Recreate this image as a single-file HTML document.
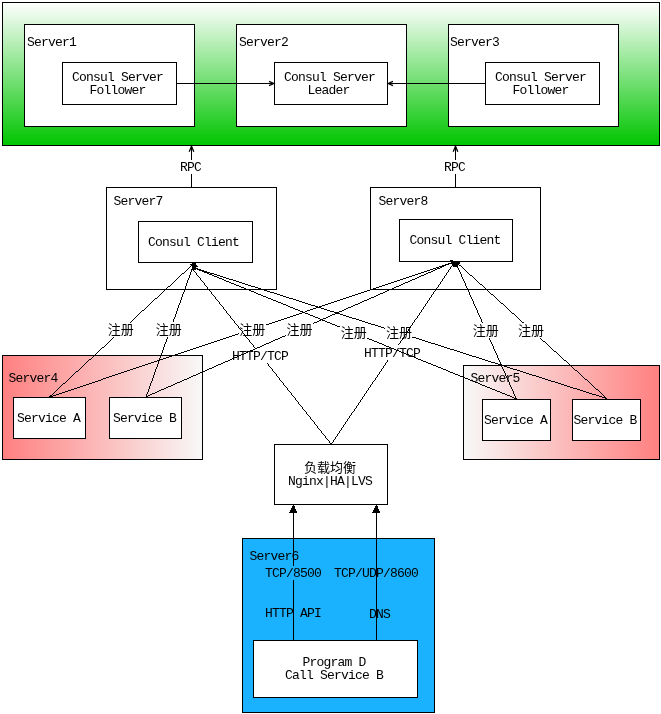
<!DOCTYPE html>
<html lang="zh-CN">
<head>
<meta charset="utf-8">
<title>Consul Cluster Architecture</title>
<style>
html,body{margin:0;padding:0;background:#fff;}
body{width:661px;height:714px;overflow:hidden;}
svg{display:block;will-change:transform;}
rect,line,polygon{shape-rendering:crispEdges;}
line,polyline{stroke:#000;stroke-width:1;fill:none;}
line.d{stroke-width:0.999;}
polyline.ah{stroke-width:1.3;}
polygon.af,rect.p{fill:#000;stroke:none;}
text{font-family:"Liberation Mono","Noto Serif CJK SC",monospace;font-size:13px;letter-spacing:-0.8px;fill:#000;}
text.m{text-anchor:middle;}
text.c{font-family:"Liberation Mono","Noto Sans CJK SC",sans-serif;font-size:13px;letter-spacing:0;}
</style>
</head>
<body>
<svg width="661" height="714" viewBox="0 0 661 714">
<defs>
<linearGradient id="gg" x1="0" y1="0" x2="0" y2="1"><stop offset="0" stop-color="#ffffff"/><stop offset="1" stop-color="#00c500"/></linearGradient>
<linearGradient id="r1" x1="0" y1="0" x2="1" y2="0"><stop offset="0" stop-color="#ff8080"/><stop offset="1" stop-color="#f8f8f8"/></linearGradient>
<linearGradient id="r2" x1="0" y1="0" x2="1" y2="0"><stop offset="0" stop-color="#f8f8f8"/><stop offset="1" stop-color="#ff8080"/></linearGradient>
</defs>
<rect x="2.5" y="2.5" width="657" height="143" fill="url(#gg)" stroke="#000"/>
<rect x="24.5" y="24.5" width="170" height="102" fill="#fff" stroke="#000"/>
<rect x="62.5" y="62.5" width="114" height="42" fill="#fff" stroke="#000"/>
<text x="27" y="46">Server1</text>
<text x="117.5" y="81" class="m">Consul Server</text>
<text x="117.5" y="94" class="m">Follower</text>
<rect x="236.5" y="24.5" width="170" height="102" fill="#fff" stroke="#000"/>
<rect x="274.5" y="62.5" width="113" height="42" fill="#fff" stroke="#000"/>
<text x="239" y="46">Server2</text>
<text x="329.5" y="81" class="m">Consul Server</text>
<text x="328.5" y="94" class="m">Leader</text>
<rect x="448.5" y="24.5" width="170" height="102" fill="#fff" stroke="#000"/>
<rect x="485.5" y="62.5" width="114" height="42" fill="#fff" stroke="#000"/>
<text x="450" y="46">Server3</text>
<text x="540.5" y="81" class="m">Consul Server</text>
<text x="540.5" y="94" class="m">Follower</text>
<line x1="176.5" y1="83.5" x2="274" y2="83.5"/>
<polyline class="ah" points="269,81.3 273.8,83.5 269,85.7"/>
<line x1="485" y1="83.5" x2="388" y2="83.5"/>
<polyline class="ah" points="393,81.3 388.2,83.5 393,85.7"/>
<line x1="191.5" y1="187" x2="191.5" y2="146"/>
<polyline class="ah" points="189.2,151.8 191.5,146.3 193.8,151.8"/>
<rect x="180" y="160" width="23" height="14" fill="#fff" stroke="none"/>
<text x="190.5" y="171" class="m">RPC</text>
<line x1="455.5" y1="187" x2="455.5" y2="146"/>
<polyline class="ah" points="453.2,151.8 455.5,146.3 457.8,151.8"/>
<rect x="444" y="160" width="23" height="14" fill="#fff" stroke="none"/>
<text x="454.5" y="171" class="m">RPC</text>
<rect x="106.5" y="187.5" width="170" height="102" fill="#fff" stroke="#000"/>
<rect x="370.5" y="187.5" width="170" height="102" fill="#fff" stroke="#000"/>
<rect x="138.5" y="221.5" width="114" height="41" fill="#fff" stroke="#000"/>
<rect x="399.5" y="219.5" width="113" height="42" fill="#fff" stroke="#000"/>
<text x="113.5" y="205">Server7</text>
<text x="378.5" y="205">Server8</text>
<text x="193.5" y="246" class="m">Consul Client</text>
<text x="455.0" y="244" class="m">Consul Client</text>
<rect x="2.5" y="355.5" width="200" height="104" fill="url(#r1)" stroke="#000"/>
<rect x="463.5" y="365.5" width="196" height="94" fill="url(#r2)" stroke="#000"/>
<rect x="13.5" y="397.5" width="72" height="41" fill="#fff" stroke="#000"/>
<rect x="109.5" y="397.5" width="72" height="41" fill="#fff" stroke="#000"/>
<rect x="482.5" y="399.5" width="68" height="41" fill="#fff" stroke="#000"/>
<rect x="572.5" y="399.5" width="68" height="41" fill="#fff" stroke="#000"/>
<text x="8.5" y="382">Server4</text>
<text x="470.5" y="382">Server5</text>
<text x="48.5" y="422" class="m">Service A</text>
<text x="144.5" y="422" class="m">Service B</text>
<text x="515.5" y="424" class="m">Service A</text>
<text x="605.0" y="424" class="m">Service B</text>
<rect x="274.5" y="444.5" width="113" height="60" fill="#fff" stroke="#000"/>
<text x="330" y="471.5" class="m c">负载均衡</text>
<text x="330.0" y="485" class="m">Nginx|HA|LVS</text>
<rect x="242.5" y="538.5" width="192" height="174" fill="#1ab2ff" stroke="#000"/>
<rect x="253.5" y="640.5" width="164" height="57" fill="#fff" stroke="#000"/>
<text x="249.5" y="560">Server6</text>
<line x1="293.5" y1="640" x2="293.5" y2="505"/>
<line x1="376.5" y1="640" x2="376.5" y2="505"/>
<polygon class="af" points="293.5,504 289,513 297.5,513"/>
<polygon class="af" points="376.5,504 372,513 380.5,513"/>
<rect x="290" y="566" width="7" height="14" fill="#1ab2ff" stroke="none"/>
<text x="265" y="577">TCP/8500</text>
<text x="334" y="577">TCP/UDP/8600</text>
<text x="265" y="617">HTTP API</text>
<text x="369" y="618">DNS</text>
<text x="334.0" y="666" class="m">Program D</text>
<text x="334.0" y="679" class="m">Call Service B</text>
<line x1="49.2" y1="397.2" x2="114.13" y2="337.2" class="d"/>
<line x1="130.36" y1="322.2" x2="194.2" y2="263.2" class="d"/>
<line x1="146.2" y1="396.7" x2="167.59" y2="337.2" class="d"/>
<line x1="172.99" y1="322.2" x2="194.2" y2="263.2" class="d"/>
<line x1="516.2" y1="398.7" x2="367.0" y2="338.09" class="d"/>
<line x1="340.0" y1="327.13" x2="193.7" y2="267.7" class="d"/>
<line x1="607.2" y1="398.7" x2="412.2" y2="336.92" class="d"/>
<line x1="385.2" y1="328.37" x2="193.7" y2="267.7" class="d"/>
<line x1="331.2" y1="444.2" x2="267.09" y2="363.2" class="d"/>
<line x1="255.22" y1="348.2" x2="192.7" y2="269.2" class="d"/>
<line x1="49.2" y1="397.2" x2="238.5" y2="333.79" class="d"/>
<line x1="265.5" y1="324.74" x2="455.2" y2="261.2" class="d"/>
<line x1="146.2" y1="396.7" x2="285.8" y2="335.48" class="d"/>
<line x1="312.8" y1="323.64" x2="455.2" y2="261.2" class="d"/>
<line x1="516.2" y1="398.7" x2="489.36" y2="338.2" class="d"/>
<line x1="482.71" y1="323.2" x2="455.2" y2="261.2" class="d"/>
<line x1="607.2" y1="398.7" x2="540.32" y2="338.2" class="d"/>
<line x1="523.74" y1="323.2" x2="455.2" y2="261.2" class="d"/>
<line x1="331.2" y1="444.2" x2="388.12" y2="360.2" class="d"/>
<line x1="398.28" y1="345.2" x2="455.2" y2="261.2" class="d"/>
<polygon class="af" points="194.5,263 190,264 190,265 191.5,266 191.5,270 196,270 196,267.5 197.5,267 197.5,266 196,265 196,263"/>
<polygon class="af" points="449.5,260 453,260 454,261.5 460,262 459.5,264 457.5,265 457,267 453.5,267 453,265 451,264 450.5,262 449.5,261"/>
<text x="120.7" y="334.0" class="m c">注册</text>
<text x="168.8" y="334.0" class="m c">注册</text>
<text x="353.8" y="337.0" class="m c">注册</text>
<text x="399.0" y="337.0" class="m c">注册</text>
<text x="260.0" y="360.0" class="m">HTTP/TCP</text>
<text x="252.3" y="334.0" class="m c">注册</text>
<text x="299.6" y="334.0" class="m c">注册</text>
<text x="485.7" y="335.0" class="m c">注册</text>
<text x="531.0" y="335.0" class="m c">注册</text>
<text x="392.0" y="357.0" class="m">HTTP/TCP</text>
</svg>
</body>
</html>
